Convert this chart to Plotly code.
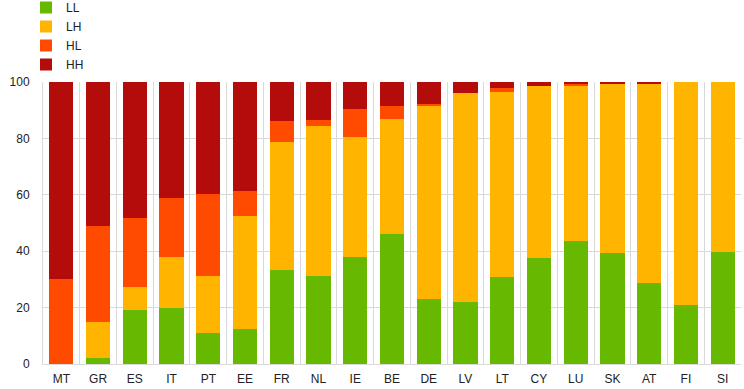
import plotly.graph_objects as go

countries = ["MT", "GR", "ES", "IT", "PT", "EE", "FR", "NL", "IE", "BE",
             "DE", "LV", "LT", "CY", "LU", "SK", "AT", "FI", "SI"]
LL = [0, 2, 19, 20, 11, 12.4, 33.3, 31.2, 37.9, 46.1, 23.0, 22.0, 30.9, 37.6, 43.6, 39.4, 28.7, 20.9, 39.7]
LH = [0, 13, 8.3, 18, 20.2, 40.1, 45.4, 53.2, 42.6, 40.8, 68.5, 74.1, 65.6, 61.0, 55.3, 60.2, 70.9, 79.1, 60.3]
HL = [30, 34, 24.5, 21, 29.1, 8.8, 7.5, 2.1, 9.9, 4.6, 0.7, 0, 1.4, 0, 0.4, 0, 0, 0, 0]
HH = [70, 51, 48.2, 41, 39.7, 38.7, 13.8, 13.5, 9.6, 8.5, 7.8, 3.9, 2.1, 1.4, 0.7, 0.4, 0.4, 0, 0]

series = [("LL", LL, "#66b800"), ("LH", LH, "#ffb400"),
          ("HL", HL, "#ff4b00"), ("HH", HH, "#b40b0b")]

fig = go.Figure()
for name, vals, col in series:
    fig.add_trace(go.Bar(x=countries, y=vals, name=name,
                         marker=dict(color=col, line=dict(width=0))))

font = dict(family="Liberation Sans, Arial, sans-serif", size=12, color="#222222")
fig.update_layout(
    barmode="stack",
    bargap=0.34,
    width=744, height=389,
    margin=dict(l=43, r=3, t=82, b=25, autoexpand=False),
    paper_bgcolor="white", plot_bgcolor="white",
    font=font,
    showlegend=True,
    legend=dict(x=26 / 744, y=1 + 89 / 282, xref="container", yref="paper",
                xanchor="left", yanchor="top",
                orientation="v", traceorder="normal", font=dict(size=12, color="#222222"),
                tracegroupgap=0, itemwidth=30, bgcolor="rgba(0,0,0,0)"),
    xaxis=dict(type="category", tickson="boundaries", showgrid=True, gridcolor="#d9d9d9",
               gridwidth=1, ticks="", showline=True, linecolor="#d9d9d9", linewidth=1,
               ticklabelstandoff=4, tickfont=font),
    yaxis=dict(range=[0, 100], tickvals=[0, 20, 40, 60, 80, 100], showgrid=True,
               gridcolor="#d9d9d9", gridwidth=1, ticks="", showline=True,
               linecolor="#d9d9d9", linewidth=1, zeroline=False,
               ticklabelstandoff=10, tickfont=font),
)
fig.write_html("out.html", config={"displayModeBar": False},
               post_script="document.body.style.margin='0';document.body.style.overflow='hidden';")
